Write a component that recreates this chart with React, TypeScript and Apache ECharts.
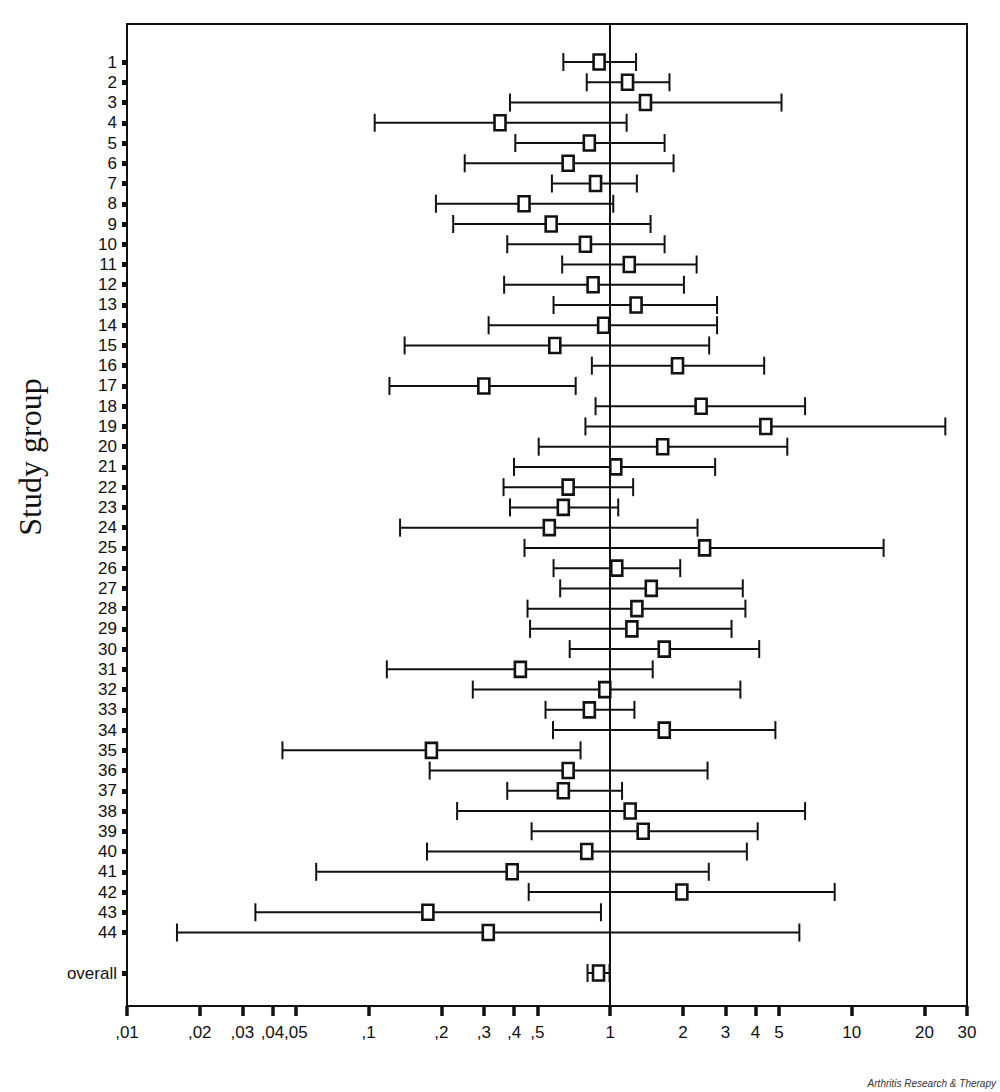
import React, { useEffect, useRef } from "react";
import * as echarts from "echarts";

// Study labels (rows 1..44) and the pooled estimate
const studyLabels = [
  "1", "2", "3", "4", "5", "6", "7", "8", "9", "10", "11", "12", "13", "14", "15",
  "16", "17", "18", "19", "20", "21", "22", "23", "24", "25", "26", "27", "28", "29", "30",
  "31", "32", "33", "34", "35", "36", "37", "38", "39", "40", "41", "42", "43", "44",
];
const estimates = [
  0.90, 1.18, 1.40, 0.35, 0.82, 0.67, 0.87, 0.44, 0.57, 0.79, 1.20, 0.85, 1.28, 0.94, 0.59,
  1.90, 0.30, 2.38, 4.41, 1.65, 1.055, 0.67, 0.64, 0.56, 2.46, 1.065, 1.48, 1.29, 1.23, 1.675,
  0.425, 0.95, 0.82, 1.675, 0.182, 0.67, 0.64, 1.21, 1.37, 0.80, 0.393, 1.98, 0.176, 0.313,
];
const lowerCI = [
  0.64, 0.80, 0.385, 0.106, 0.405, 0.25, 0.574, 0.19, 0.224, 0.375, 0.633, 0.364, 0.583, 0.314, 0.141,
  0.84, 0.122, 0.87, 0.79, 0.506, 0.40, 0.362, 0.385, 0.135, 0.442, 0.583, 0.621, 0.455, 0.466, 0.68,
  0.119, 0.27, 0.54, 0.58, 0.044, 0.179, 0.375, 0.2325, 0.473, 0.1745, 0.0607, 0.46, 0.034, 0.0161,
];
const upperCI = [
  1.28, 1.76, 5.12, 1.17, 1.68, 1.83, 1.29, 1.03, 1.47, 1.68, 2.28, 2.02, 2.77, 2.77, 2.57,
  4.34, 0.72, 6.41, 24.4, 5.41, 2.72, 1.245, 1.08, 2.30, 13.55, 1.95, 3.54, 3.63, 3.18, 4.14,
  1.50, 3.46, 1.26, 4.83, 0.754, 2.53, 1.12, 6.41, 4.08, 3.68, 2.56, 8.5, 0.916, 6.07,
];
const overallLabel = "overall";
const overallEstimate = 0.895;
const overallLower = 0.806;
const overallUpper = 0.994;
const overallPosition = 46;

// X axis ticks (odds ratio, log scale)
const xTickValues = [0.01, 0.02, 0.03, 0.04, 0.05, 0.1, 0.2, 0.3, 0.4, 0.5, 1, 2, 3, 4, 5, 10, 20, 30];
const xTickLabels = [",01", ",02", ",03", ",04", ",05", ",1", ",2", ",3", ",4", ",5", "1", "2", "3", "4", "5", "10", "20", "30"];

const yTitle = "Study group";
const sourceText = "Arthritis Research & Therapy";

const LABEL_FONT = '"Liberation Sans", Arial, sans-serif';

export default function App() {
  const ref = useRef<HTMLDivElement>(null);

  useEffect(() => {
    if (!ref.current) return;
    const chart = echarts.init(ref.current, null, { renderer: "svg" });

    const rows: number[][] = studyLabels.map((_, i) => [
      Math.log10(lowerCI[i]),
      Math.log10(estimates[i]),
      Math.log10(upperCI[i]),
      i + 1,
    ]);
    rows.push([
      Math.log10(overallLower),
      Math.log10(overallEstimate),
      Math.log10(overallUpper),
      overallPosition,
    ]);

    const yPositions = studyLabels.map((_, i) => i + 1).concat([overallPosition]);
    const xTickLogs = xTickValues.map((v) => Math.log10(v));

    const ink = "#111";

    chart.setOption({
      animation: false,
      backgroundColor: "#fff",
      grid: {
        left: 127,
        right: 33,
        top: 24,
        bottom: 86,
        show: true,
        borderColor: ink,
        borderWidth: 2,
        backgroundColor: "transparent",
      },
      xAxis: {
        type: "value",
        position: "bottom",
        min: -2,
        max: Math.log10(30),
        splitLine: { show: false },
        axisLine: { show: true, onZero: false, lineStyle: { color: ink, width: 2 } },
        axisTick: {
          show: true,
          inside: false,
          customValues: xTickLogs,
          length: 10,
          lineStyle: { color: ink, width: 3.5 },
        },
        axisLabel: {
          show: true,
          customValues: xTickLogs,
          margin: 18,
          color: ink,
          fontSize: 17,
          fontFamily: LABEL_FONT,
          formatter: (v: number) => {
            const idx = xTickLogs.findIndex((t) => Math.abs(t - v) < 1e-6);
            return idx >= 0 ? xTickLabels[idx] : "";
          },
        },
      },
      yAxis: {
        type: "value",
        position: "left",
        inverse: true,
        min: -0.88,
        max: 47.63,
        splitLine: { show: false },
        axisLine: { show: true, onZero: false, lineStyle: { color: ink, width: 2 } },
        axisTick: {
          show: true,
          customValues: yPositions,
          length: 5,
          lineStyle: { color: ink, width: 5 },
        },
        axisLabel: {
          show: true,
          customValues: yPositions,
          margin: 10,
          color: ink,
          fontSize: 17,
          fontFamily: LABEL_FONT,
          formatter: (v: number) => {
            if (Math.abs(v - overallPosition) < 1e-6) return overallLabel;
            const i = Math.round(v) - 1;
            return i >= 0 && i < studyLabels.length ? studyLabels[i] : "";
          },
        },
      },
      graphic: [
        {
          type: "text",
          x: 30,
          y: 457,
          rotation: Math.PI / 2,
          style: {
            text: yTitle,
            font: '32px "Liberation Serif", "DejaVu Serif", serif',
            fill: ink,
            textAlign: "center",
            textVerticalAlign: "middle",
          },
        },
        {
          type: "text",
          x: 996,
          y: 1083,
          style: {
            text: sourceText,
            font: 'italic 10px "Liberation Sans", Arial, sans-serif',
            fill: "#333",
            textAlign: "right",
            textVerticalAlign: "middle",
          },
        },
      ],
      series: [
        {
          type: "custom",
          data: rows,
          encode: { x: [0, 1, 2], y: 3 },
          clip: false,
          renderItem: (params: any, api: any) => {
            const pos = api.value(3);
            const lo = api.coord([api.value(0), pos]);
            const est = api.coord([api.value(1), pos]);
            const hi = api.coord([api.value(2), pos]);
            const capH = 9;
            const bw = 11;
            const bh = 15;
            const lineStyle = { stroke: ink, lineWidth: 2 };
            return {
              type: "group",
              children: [
                { type: "line", shape: { x1: lo[0], y1: lo[1], x2: hi[0], y2: hi[1] }, style: lineStyle },
                { type: "line", shape: { x1: lo[0], y1: lo[1] - capH, x2: lo[0], y2: lo[1] + capH }, style: lineStyle },
                { type: "line", shape: { x1: hi[0], y1: hi[1] - capH, x2: hi[0], y2: hi[1] + capH }, style: lineStyle },
                {
                  type: "rect",
                  shape: { x: est[0] - bw / 2, y: est[1] - bh / 2, width: bw, height: bh },
                  style: { fill: "#fff", stroke: ink, lineWidth: 2.6 },
                },
              ],
            };
          },
          markLine: {
            silent: true,
            symbol: "none",
            z: 1,
            label: { show: false },
            lineStyle: { color: ink, width: 2, type: "solid" },
            data: [{ xAxis: 0 }],
          },
          z: 3,
        },
      ],
    });

    return () => chart.dispose();
  }, []);

  return (
    <div
      ref={ref}
      style={{ position: "fixed", left: 0, top: 0, width: 1000, height: 1092, background: "#fff" }}
    />
  );
}
